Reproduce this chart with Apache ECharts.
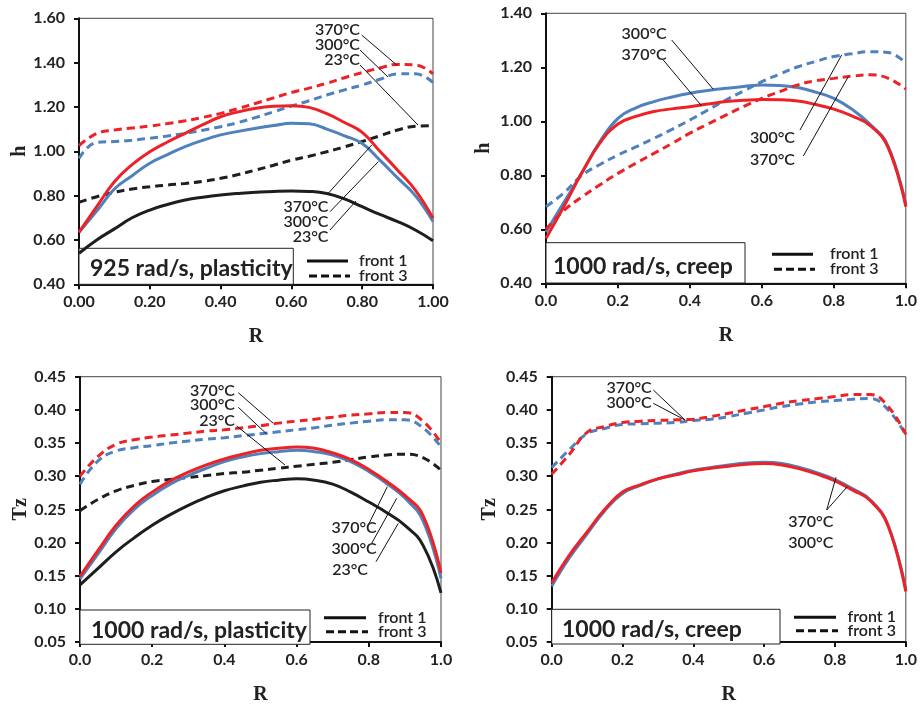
<!DOCTYPE html>
<html>
<head>
<meta charset="utf-8">
<script src="https://cdn.jsdelivr.net/npm/echarts@6/dist/echarts.min.js"></script>
<style>html,body{margin:0;padding:0;background:#fff;}#c{width:920px;height:706px;}</style>
</head>
<body>
<div id="c"></div>
<script>
// ---- data ----
const R = [0, 0.05, 0.1, 0.15, 0.2, 0.25, 0.3, 0.35, 0.4, 0.45, 0.5, 0.55, 0.6, 0.65, 0.7, 0.75, 0.8, 0.85, 0.9, 0.95, 1.0];

// Panel 1: h, 925 rad/s, plasticity
const p1_23_front1  = [0.54, 0.60, 0.65, 0.70, 0.735, 0.76, 0.78, 0.793, 0.803, 0.81, 0.815, 0.819, 0.821, 0.819, 0.81, 0.785, 0.75, 0.715, 0.683, 0.645, 0.597];
const p1_23_front3  = [0.77, 0.795, 0.815, 0.83, 0.84, 0.848, 0.855, 0.865, 0.878, 0.895, 0.916, 0.937, 0.96, 0.978, 0.998, 1.02, 1.044, 1.07, 1.096, 1.113, 1.116];
const p1_300_front1 = [0.635, 0.73, 0.83, 0.89, 0.946, 0.985, 1.021, 1.05, 1.074, 1.09, 1.104, 1.116, 1.126, 1.124, 1.10, 1.07, 1.035, 0.96, 0.88, 0.80, 0.683];
const p1_370_front1 = [0.635, 0.75, 0.863, 0.94, 0.998, 1.042, 1.081, 1.12, 1.156, 1.178, 1.194, 1.203, 1.206, 1.198, 1.17, 1.13, 1.085, 1.0, 0.915, 0.825, 0.698];
const p1_300_front3 = [0.968, 1.04, 1.044, 1.05, 1.059, 1.069, 1.081, 1.095, 1.111, 1.13, 1.153, 1.178, 1.204, 1.228, 1.254, 1.277, 1.299, 1.325, 1.349, 1.35, 1.31];
const p1_370_front3 = [1.026, 1.08, 1.096, 1.105, 1.114, 1.125, 1.138, 1.153, 1.171, 1.193, 1.217, 1.241, 1.265, 1.285, 1.307, 1.332, 1.355, 1.376, 1.392, 1.39, 1.349];

// Panel 2: h, 1000 rad/s, creep
const p2_300_front1 = [0.59, 0.70, 0.81, 0.925, 1.011, 1.05, 1.073, 1.09, 1.104, 1.114, 1.122, 1.129, 1.134, 1.133, 1.125, 1.108, 1.085, 1.045, 0.99, 0.91, 0.69];
const p2_370_front1 = [0.567, 0.685, 0.81, 0.92, 0.99, 1.018, 1.036, 1.046, 1.054, 1.064, 1.073, 1.078, 1.081, 1.08, 1.075, 1.062, 1.045, 1.02, 0.985, 0.905, 0.684];
const p2_300_front3 = [0.684, 0.735, 0.80, 0.84, 0.875, 0.905, 0.937, 0.97, 1.005, 1.042, 1.079, 1.113, 1.147, 1.175, 1.202, 1.222, 1.24, 1.25, 1.258, 1.255, 1.215];
const p2_370_front3 = [0.60, 0.67, 0.72, 0.765, 0.807, 0.845, 0.881, 0.918, 0.956, 0.99, 1.023, 1.055, 1.085, 1.11, 1.135, 1.15, 1.159, 1.167, 1.172, 1.16, 1.119];

// Panel 3: Tz, 1000 rad/s, plasticity
const p3_23_front1  = [0.136, 0.161, 0.186, 0.207, 0.226, 0.242, 0.256, 0.268, 0.278, 0.285, 0.291, 0.294, 0.296, 0.294, 0.288, 0.276, 0.261, 0.245, 0.226, 0.196, 0.124];
const p3_23_front3  = [0.248, 0.265, 0.278, 0.286, 0.292, 0.295, 0.298, 0.301, 0.304, 0.306, 0.309, 0.312, 0.315, 0.318, 0.321, 0.325, 0.329, 0.332, 0.333, 0.328, 0.309];
const p3_300_front1 = [0.145, 0.183, 0.221, 0.25, 0.271, 0.288, 0.301, 0.312, 0.322, 0.329, 0.334, 0.337, 0.339, 0.337, 0.332, 0.322, 0.307, 0.289, 0.267, 0.233, 0.146];
const p3_370_front1 = [0.149, 0.188, 0.226, 0.255, 0.276, 0.293, 0.306, 0.317, 0.326, 0.333, 0.339, 0.342, 0.344, 0.342, 0.335, 0.325, 0.31, 0.292, 0.271, 0.241, 0.154];
const p3_300_front3 = [0.288, 0.323, 0.338, 0.343, 0.346, 0.35, 0.353, 0.356, 0.358, 0.361, 0.364, 0.367, 0.37, 0.373, 0.377, 0.38, 0.383, 0.385, 0.385, 0.373, 0.344];
const p3_370_front3 = [0.30, 0.33, 0.348, 0.355, 0.359, 0.362, 0.365, 0.368, 0.37, 0.373, 0.376, 0.38, 0.383, 0.386, 0.389, 0.392, 0.394, 0.396, 0.396, 0.383, 0.35];

// Panel 4: Tz, 1000 rad/s, creep
const p4_300_front1 = [0.134, 0.177, 0.213, 0.248, 0.274, 0.286, 0.296, 0.303, 0.309, 0.313, 0.317, 0.32, 0.321, 0.319, 0.313, 0.305, 0.295, 0.281, 0.264, 0.226, 0.128];
const p4_370_front1 = [0.139, 0.181, 0.216, 0.25, 0.276, 0.287, 0.296, 0.302, 0.308, 0.312, 0.315, 0.318, 0.319, 0.317, 0.311, 0.303, 0.293, 0.279, 0.263, 0.225, 0.126];
const p4_300_front3 = [0.313, 0.34, 0.364, 0.372, 0.378, 0.379, 0.38, 0.381, 0.384, 0.386, 0.39, 0.395, 0.40, 0.405, 0.409, 0.412, 0.414, 0.416, 0.417, 0.40, 0.362];
const p4_370_front3 = [0.303, 0.333, 0.366, 0.375, 0.381, 0.383, 0.384, 0.385, 0.386, 0.39, 0.395, 0.40, 0.405, 0.41, 0.414, 0.417, 0.42, 0.423, 0.423, 0.405, 0.363];

const xTicks2 = ['0.00', '0.20', '0.40', '0.60', '0.80', '1.00'];
const panelTitles = ['925 rad/s, plasticity', '1000 rad/s, creep', '1000 rad/s, plasticity', '1000 rad/s, creep'];
const legendNames = ['front 1', 'front 3'];
const yNames = ['h', 'h', 'Tz', 'Tz'];

// ---- styling ----
const RED = '#ec2227', BLUE = '#4f81bd', BLACK = '#1e1e1e';
const SANS = 'Lato, "Open Sans", sans-serif';
const SERIF = '"Liberation Serif", "DejaVu Serif", serif';
const DASH = [8, 5];

const grids = [
  {left: 79, top: 18.3, width: 354, height: 266},
  {left: 546, top: 13.3, width: 362, height: 270},
  {left: 80, top: 376.7, width: 361, height: 267.6},
  {left: 551.7, top: 376.7, width: 358.3, height: 267.3}
];
const yRanges = [[0.4, 1.6, 0.2], [0.4, 1.4, 0.2], [0.05, 0.45, 0.05], [0.05, 0.45, 0.05]];
const yNameGaps = [45, 52, 45, 52];

function pts(vals) { return R.map((r, i) => [r, vals[i]]); }
function ser(g, vals, color, dashed) {
  return {
    type: 'line', xAxisIndex: g, yAxisIndex: g, data: pts(vals),
    showSymbol: false, symbol: 'none', smooth: 0.45, z: 2,
    lineStyle: {color: color, width: 3, type: dashed ? DASH : 'solid'}
  };
}

const series = [
  ser(0, p1_23_front1, BLACK, false), ser(0, p1_23_front3, BLACK, true),
  ser(0, p1_300_front1, BLUE, false), ser(0, p1_300_front3, BLUE, true),
  ser(0, p1_370_front1, RED, false), ser(0, p1_370_front3, RED, true),
  ser(1, p2_300_front1, BLUE, false), ser(1, p2_300_front3, BLUE, true),
  ser(1, p2_370_front1, RED, false), ser(1, p2_370_front3, RED, true),
  ser(2, p3_23_front1, BLACK, false), ser(2, p3_23_front3, BLACK, true),
  ser(2, p3_300_front1, BLUE, false), ser(2, p3_300_front3, BLUE, true),
  ser(2, p3_370_front1, RED, false), ser(2, p3_370_front3, RED, true),
  ser(3, p4_300_front1, BLUE, false), ser(3, p4_300_front3, BLUE, true),
  ser(3, p4_370_front1, RED, false), ser(3, p4_370_front3, RED, true)
];

const xAxes = grids.map((g, i) => ({
  gridIndex: i, type: 'value', min: 0, max: 1, interval: 0.2,
  name: 'R', nameLocation: 'middle', nameGap: 43,
  nameTextStyle: {fontFamily: SERIF, fontWeight: 'bold', fontSize: 20, color: '#222'},
  axisLine: {show: true, onZero: false, lineStyle: {color: '#111', width: 2}},
  axisTick: {show: true, length: 5, lineStyle: {color: '#111', width: 2}},
  splitLine: {show: false},
  axisLabel: {
    margin: 10, fontFamily: SANS, fontWeight: 'bold', fontSize: 16, color: '#222',
    formatter: v => i === 0 ? xTicks2[Math.round(v * 5)] : v.toFixed(1)
  }
}));
const yAxes = grids.map((g, i) => ({
  gridIndex: i, type: 'value', min: yRanges[i][0], max: yRanges[i][1], interval: yRanges[i][2],
  name: yNames[i], nameLocation: 'middle', nameRotate: 90, nameGap: yNameGaps[i],
  nameTextStyle: {fontFamily: SERIF, fontWeight: 'bold', fontSize: 20, color: '#222'},
  axisLine: {show: true, onZero: false, lineStyle: {color: '#111', width: 2}},
  axisTick: {show: true, length: 5, lineStyle: {color: '#111', width: 2}},
  splitLine: {show: false},
  axisLabel: {margin: 14, fontFamily: SANS, fontWeight: 'bold', fontSize: 16, color: '#222',
    formatter: v => v.toFixed(2)}
}));

// ---- decorations (pixel layout) ----
const graphic = [];
function txt(x, y, s, opt) {
  opt = opt || {};
  graphic.push({type: 'text', x: x, y: y, z: 100, style: {
    text: s, fill: '#222', font: (opt.weight || '600') + ' ' + (opt.size || 16) + 'px ' + SANS,
    align: opt.align || 'left', verticalAlign: 'middle'}});
}
function ln(x1, y1, x2, y2, w, dash) {
  graphic.push({type: 'line', z: 99, shape: {x1: x1, y1: y1, x2: x2, y2: y2},
    style: {stroke: '#111', lineWidth: w || 1, lineDash: dash || null}});
}
function box(x, y, w, h) {
  graphic.push({type: 'rect', z: 1, shape: {x: x, y: y, width: w, height: h},
    style: {fill: '#fff', stroke: '#222', lineWidth: 1}});
}
// title boxes
const boxes = [[79, 248.3, 214.3, 36], [546, 242.7, 199, 40.3], [80, 610, 230, 34.3], [551.7, 609.3, 228.3, 34.7]];
const boxText = [[90, 269], [553, 266.5], [91, 630.5], [562, 630]];
boxes.forEach((b, i) => { box(b[0], b[1], b[2], b[3]); txt(boxText[i][0], boxText[i][1], panelTitles[i], {size: 23, weight: 'bold'}); });
// legends
const legs = [[307, 348, 261, 359, 276], [772, 813, 254.3, 830, 269.3], [324, 366, 617.7, 378, 631.7], [794, 836, 617.3, 847.5, 630.7]];
legs.forEach(l => {
  ln(l[0], l[2], l[1], l[2], 3);
  ln(l[0] + 2, l[4], l[1] + 2, l[4], 3, [8, 4]);
  txt(l[3], l[2], legendNames[0]);
  txt(l[3], l[4], legendNames[1]);
});
// annotations
function ann(x, y, s) { txt(x, y, s, {align: 'right'}); }
// panel 1 top
ann(360, 30, '370°C'); ann(360, 45, '300°C'); ann(360, 60, '23°C');
ln(361.7, 35, 396.7, 65); ln(360, 50, 388, 77); ln(360, 65, 418, 125);
// panel 1 bottom
ann(328.5, 206.7, '370°C'); ann(328.5, 221.5, '300°C'); ann(328.5, 236.7, '23°C');
ln(328.3, 193.3, 371.7, 145); ln(330, 211.7, 378.3, 161.7); ln(330, 230, 356, 201);
// panel 2 top
ann(666.7, 34.3, '300°C'); ann(666.7, 55, '370°C');
ln(671.7, 40, 713.3, 89.3); ln(663.3, 60, 701.7, 106);
// panel 2 bottom
ann(795, 138.3, '300°C'); ann(795, 160, '370°C');
ln(800, 130, 841.7, 55); ln(803.3, 156, 848.3, 76.7);
// panel 3 top
ann(235, 390.7, '370°C'); ann(235, 405, '300°C'); ann(235, 420.7, '23°C');
ln(238.3, 392.7, 273.3, 423.3); ln(238.3, 407.3, 266.7, 434); ln(236.7, 426, 285, 465);
// panel 3 bottom
ann(376.7, 528.3, '370°C'); ann(376.7, 549.3, '300°C'); ann(368, 570, '23°C');
ln(368.3, 525, 387.3, 486.7); ln(371.7, 543.3, 396.7, 498.3); ln(376, 561.7, 398.3, 523.3);
// panel 4 top
ann(651.7, 388.3, '370°C'); ann(651.7, 403.3, '300°C');
ln(653.3, 390, 685, 420); ln(653.3, 403.3, 685, 420);
// panel 4 bottom
ann(833.3, 521.7, '370°C'); ann(833.3, 542.7, '300°C');
ln(826.7, 510, 836, 477.3); ln(826.7, 510, 847.3, 486.7);

const chart = echarts.init(document.getElementById('c'), null, {renderer: 'canvas'});
chart.setOption({
  animation: false,
  backgroundColor: '#fff',
  grid: grids.map(g => Object.assign({show: true, borderColor: '#444', borderWidth: 1, backgroundColor: 'transparent'}, g)),
  xAxis: xAxes,
  yAxis: yAxes,
  series: series,
  graphic: graphic
});
</script>
</body>
</html>
